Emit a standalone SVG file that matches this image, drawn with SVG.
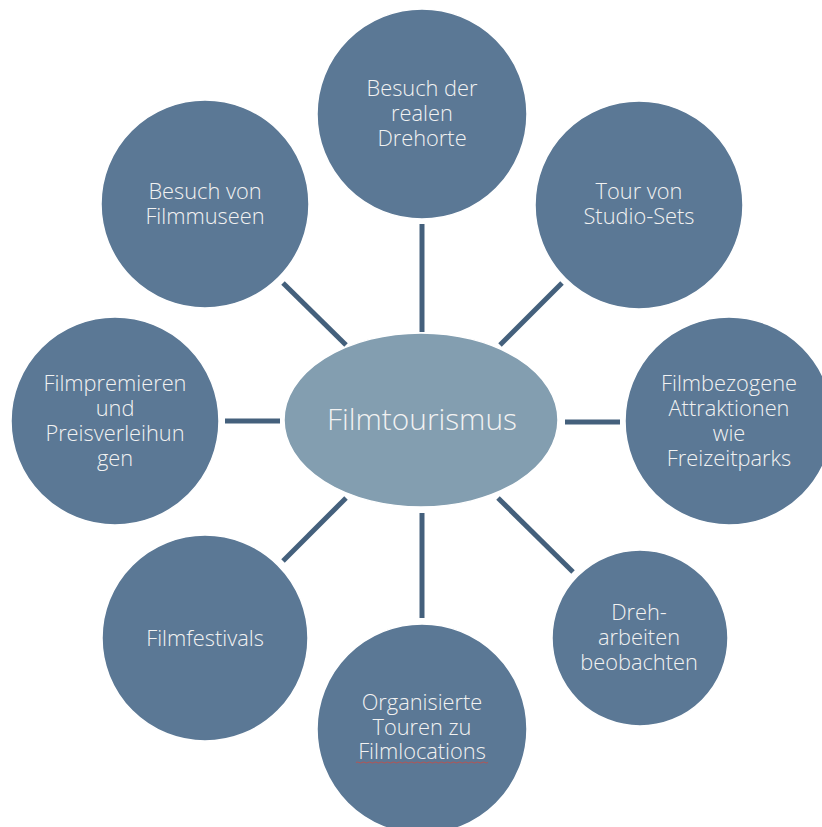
<svg xmlns="http://www.w3.org/2000/svg" width="822" height="827" viewBox="0 0 822 827">
<style>
.n{fill:#5b7895;stroke:#ffffff;stroke-width:1.5}
.c{fill:#839eb0;stroke:#ffffff;stroke-width:1.5}
.t{font-family:"Open Sans","Noto Sans","Liberation Sans",sans-serif;font-weight:300;font-size:21.8px;fill:#f2f2f2;text-anchor:middle}
.tc{font-size:29.8px}
.e line{stroke:#44607c;stroke-width:5}
</style>
<rect width="822" height="827" fill="#ffffff"/>
<g id="connectors" class="e">
<line x1="422" y1="224" x2="422" y2="332"/>
<line x1="562" y1="283" x2="500" y2="345"/>
<line x1="565" y1="422" x2="620" y2="422"/>
<line x1="498" y1="498" x2="573" y2="572"/>
<line x1="422" y1="513" x2="422" y2="618"/>
<line x1="346" y1="498" x2="283" y2="561"/>
<line x1="225" y1="421" x2="280" y2="421"/>
<line x1="283" y1="283" x2="346" y2="345"/>
</g>
<g id="center">
<ellipse class="c" cx="421" cy="420" rx="137" ry="87"/>
<text class="t tc" x="422" y="430">Filmtourismus</text>
</g>
<g id="n-drehorte">
<circle class="n" cx="422" cy="114" r="105"/>
<text class="t" x="422" y="96">Besuch der</text>
<text class="t" x="422" y="121">realen</text>
<text class="t" x="422" y="146">Drehorte</text>
</g>
<g id="n-studio">
<circle class="n" cx="639" cy="205" r="104"/>
<text class="t" x="639" y="199">Tour von</text>
<text class="t" x="639" y="224">Studio-Sets</text>
</g>
<g id="n-attraktionen">
<circle class="n" cx="729" cy="421" r="104"/>
<text class="t" x="729" y="391">Filmbezogene</text>
<text class="t" x="729" y="416">Attraktionen</text>
<text class="t" x="729" y="441">wie</text>
<text class="t" x="729" y="466">Freizeitparks</text>
</g>
<g id="n-dreharbeiten">
<circle class="n" cx="640" cy="638" r="88"/>
<text class="t" x="639" y="620">Dreh-</text>
<text class="t" x="639" y="645">arbeiten</text>
<text class="t" x="639" y="670">beobachten</text>
</g>
<g id="n-touren">
<circle class="n" cx="422" cy="729" r="105"/>
<text class="t" x="422" y="710">Organisierte</text>
<text class="t" x="422" y="735">Touren zu</text>
<text class="t" x="422" y="759">Filmlocations</text>
<path d="M356 762.5 Q357.5 761.5 359 762.5 T362 762.5 T365 762.5 T368 762.5 T371 762.5 T374 762.5 T377 762.5 T380 762.5 T383 762.5 T386 762.5 T389 762.5 T392 762.5 T395 762.5 T398 762.5 T401 762.5 T404 762.5 T407 762.5 T410 762.5 T413 762.5 T416 762.5 T419 762.5 T422 762.5 T425 762.5 T428 762.5 T431 762.5 T434 762.5 T437 762.5 T440 762.5 T443 762.5 T446 762.5 T449 762.5 T452 762.5 T455 762.5 T458 762.5 T461 762.5 T464 762.5 T467 762.5 T470 762.5 T473 762.5 T476 762.5 T479 762.5 T482 762.5 T485 762.5 T488 762.5" fill="none" stroke="#c0504d" stroke-width="0.9"/>
</g>
<g id="n-festivals">
<circle class="n" cx="205" cy="638" r="103"/>
<text class="t" x="205" y="646">Filmfestivals</text>
</g>
<g id="n-premieren">
<circle class="n" cx="115" cy="421" r="104"/>
<text class="t" x="115" y="391">Filmpremieren</text>
<text class="t" x="115" y="416">und</text>
<text class="t" x="115" y="441">Preisverleihun</text>
<text class="t" x="115" y="466">gen</text>
</g>
<g id="n-museen">
<circle class="n" cx="205" cy="204" r="104"/>
<text class="t" x="205" y="199">Besuch von</text>
<text class="t" x="205" y="224">Filmmuseen</text>
</g>
</svg>
